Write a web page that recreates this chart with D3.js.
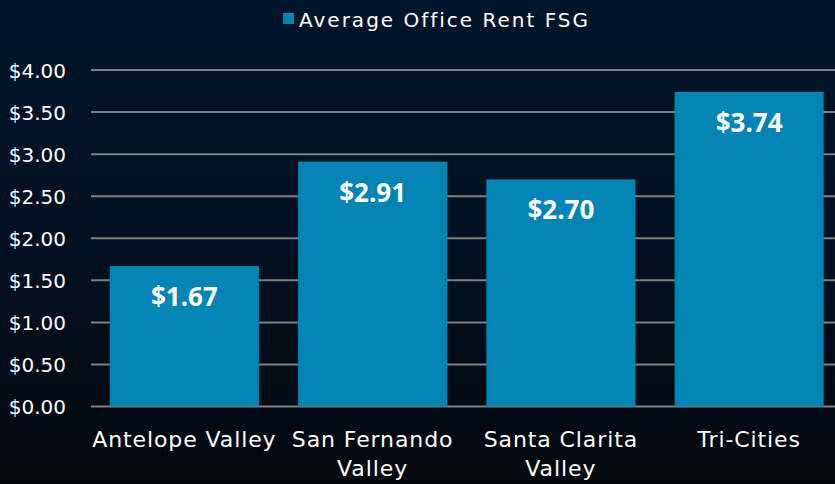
<!DOCTYPE html>
<html><head><meta charset="utf-8">
<script src="https://cdn.jsdelivr.net/npm/d3@7"></script>
<style>html,body{margin:0;padding:0;background:#020b16;}svg{display:block;}</style>
</head><body>
<script>
const categories = ["Antelope Valley","San Fernando Valley","Santa Clarita Valley","Tri-Cities"];
const tickLabelLines = [["Antelope Valley"],["San Fernando","Valley"],["Santa Clarita","Valley"],["Tri-Cities"]];
const rentValues = [1.67, 2.91, 2.70, 3.74];
const valueLabels = ["$1.67","$2.91","$2.70","$3.74"];
const yTicks = [0,0.5,1,1.5,2,2.5,3,3.5,4];
const seriesName = "Average Office Rent FSG";

const W = 835, H = 484;
const svg = d3.select("body").append("svg").attr("width", W).attr("height", H);
const defs = svg.append("defs");
const g = defs.append("linearGradient").attr("id","bg").attr("x1",0).attr("y1",0).attr("x2",0).attr("y2",1);
g.append("stop").attr("offset","0%").attr("stop-color","#00162b");
g.append("stop").attr("offset","60%").attr("stop-color","#010f1e");
g.append("stop").attr("offset","100%").attr("stop-color","#04080e");
svg.append("rect").attr("width",W).attr("height",H).attr("fill","url(#bg)");
svg.append("rect").attr("y",480).attr("width",W).attr("height",4).attr("fill","#020306");

const x = d3.scaleBand().domain(categories).range([91, 842.5]).paddingInner(0.208).paddingOuter(0.1);
const y = d3.scaleLinear().domain([0,4]).range([406.5, 70]);

// gridlines
svg.append("g").selectAll("line").data(yTicks).join("line")
  .attr("x1", 91).attr("x2", 842.5)
  .attr("y1", d => y(d)).attr("y2", d => y(d))
  .attr("stroke", "#7f7f7f").attr("stroke-width", 2);

// y axis labels
const yAxis = d3.axisLeft(y).tickValues(yTicks).tickSize(0).tickPadding(0)
  .tickFormat(d => "$" + d3.format(".2f")(d));
const ya = svg.append("g").attr("transform","translate(66,0)").call(yAxis);
ya.select(".domain").remove();
ya.selectAll("text").attr("fill","#ffffff").attr("font-family","DejaVu Sans").attr("font-size",20).attr("dy","0.35em");

// bars
svg.append("g").selectAll("rect").data(rentValues).join("rect")
  .attr("x", (d,i) => x(categories[i])).attr("width", x.bandwidth())
  .attr("y", d => y(d)).attr("height", d => y(0) - y(d))
  .attr("fill", "#0284b4");

// value labels
svg.append("g").selectAll("text").data(rentValues).join("text")
  .attr("x", (d,i) => x(categories[i]) + x.bandwidth()/2)
  .attr("y", d => y(d) + 40)
  .attr("text-anchor","middle").attr("fill","#ffffff")
  .attr("font-family","Open Sans").attr("font-weight","bold").attr("font-size",26)
  .text((d,i) => valueLabels[i]);

// x labels
const xl = svg.append("g").selectAll("text").data(categories).join("text")
  .attr("x", d => x(d) + x.bandwidth()/2)
  .attr("y", 447)
  .attr("text-anchor","middle").attr("fill","#ffffff")
  .attr("font-family","DejaVu Sans").attr("font-size",22).attr("letter-spacing",0.9);
xl.each(function(d,i){
  const t = d3.select(this);
  tickLabelLines[i].forEach((ln,j) => {
    t.append("tspan").attr("x", x(d) + x.bandwidth()/2).attr("dy", j===0 ? 0 : 29).text(ln);
  });
});

// legend
const leg = svg.append("g");
leg.append("rect").attr("x",283).attr("y",13).attr("width",11).attr("height",11).attr("fill","#0284b4");
leg.append("text").attr("x",299).attr("y",27).attr("fill","#ffffff")
  .attr("font-family","DejaVu Sans").attr("font-size",20).attr("letter-spacing",2).text(seriesName);
</script>
</body></html>
